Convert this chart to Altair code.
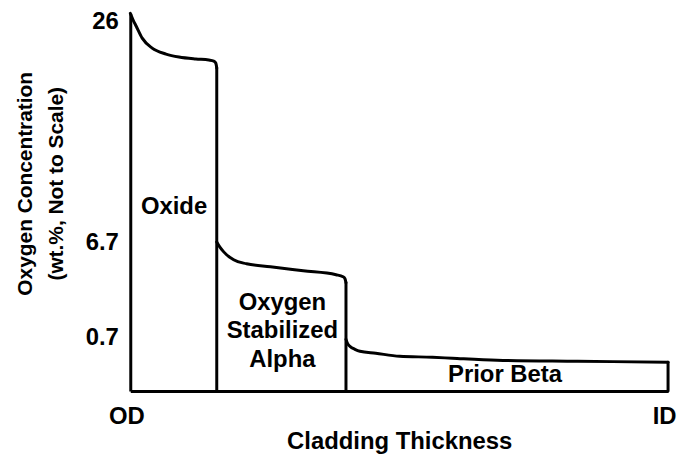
import altair as alt
import pandas as pd

# Curve segments (x: position across cladding, y: concentration, not to scale)
oxide_x = [0, 3, 6, 12, 22, 36, 49, 66, 79, 84, 86, 87]
oxide_y = [380, 373, 367, 355, 345, 339, 336, 334, 333, 332, 330, 325]
alpha_x = [87, 90, 94, 104, 117, 141, 174, 207, 214, 216, 217]
alpha_y = [150, 145, 140, 132, 128, 125, 121, 117, 115, 113, 109]
beta_x = [217, 219, 221, 226, 231, 247, 271, 304, 324, 369, 450, 541]
beta_y = [52, 47, 45, 42, 40, 38, 35, 34, 33, 31, 30, 29]

# Vertical region boundaries
bound_x = [87, 217, 541]
bound_top = [325, 109, 29]

# Axis ticks and labels
x_ticks = [0, 541]
x_labels = ["OD", "ID"]
y_ticks = [372, 149, 54]
y_labels = ["26", "6.7", "0.7"]

# Region annotations
ann_text = ["Oxide", "Oxygen\nStabilized\nAlpha", "Prior Beta"]
ann_x = [44, 153, 377]
ann_y = [185, 89, 16]

FONT = "Liberation Sans"

rows = []
for name, xs, ys in [("oxide", oxide_x, oxide_y), ("alpha", alpha_x, alpha_y), ("beta", beta_x, beta_y)]:
    for i, (xv, yv) in enumerate(zip(xs, ys)):
        rows.append({"seg": name, "i": i, "x": xv, "y": yv})
curve = pd.DataFrame(rows)
bounds = pd.DataFrame({"x": bound_x, "y0": [0] * len(bound_x), "y1": bound_top})
ann = pd.DataFrame({"t": ann_text, "x": ann_x, "y": ann_y})


def label_expr(ticks, labels):
    expr = "''"
    for t, l in zip(ticks, labels):
        expr = f"datum.value == {t} ? '{l}' : ({expr})"
    return expr


xscale = alt.Scale(domain=[0, 541], nice=False, zero=False)
yscale = alt.Scale(domain=[0, 380], nice=False, zero=False)

x_axis = alt.Axis(
    values=x_ticks, labelExpr=label_expr(x_ticks, x_labels), grid=False, ticks=False,
    domainColor="black", domainWidth=3, labelFont=FONT, labelFontSize=24, labelFontWeight="bold",
    labelColor="black", labelPadding=14, labelOffset=-4, title="Cladding Thickness",
    titleFont=FONT, titleFontSize=24, titleFontWeight="bold", titleColor="black",
    titleBaseline="alphabetic", titleY=58, labelFlush=False,
)
y_axis = alt.Axis(
    values=y_ticks, labelExpr=label_expr(y_ticks, y_labels), grid=False, ticks=False,
    domainColor="black", domainWidth=3, labelFont=FONT, labelFontSize=24, labelFontWeight="bold",
    labelColor="black", labelPadding=12, labelFlush=False, labelOverlap=False,
    title=["Oxygen Concentration", "(wt.%, Not to Scale)"],
    titleFont=FONT, titleFontSize=21, titleFontWeight="bold", titleColor="black",
    titleBaseline="alphabetic", titleX=-99, titleY=171, titleAngle=270, titleLineHeight=31,
)

lines = alt.Chart(curve).mark_line(
    color="black", strokeWidth=3, interpolate="monotone", strokeCap="round", strokeJoin="round"
).encode(
    x=alt.X("x:Q", scale=xscale, axis=x_axis),
    y=alt.Y("y:Q", scale=yscale, axis=y_axis),
    detail="seg:N",
    order="i:Q",
)

rules = alt.Chart(bounds).mark_rule(color="black", strokeWidth=3, strokeCap="round").encode(
    x=alt.X("x:Q", scale=xscale),
    y=alt.Y("y0:Q", scale=yscale),
    y2="y1:Q",
)

texts = alt.Chart(ann).mark_text(
    font=FONT, fontSize=24, fontWeight="bold", color="black", lineBreak="\n",
    lineHeight=29, align="center", baseline="middle",
).encode(
    x=alt.X("x:Q", scale=xscale),
    y=alt.Y("y:Q", scale=yscale),
    text="t:N",
)

chart = alt.layer(lines, rules, texts).properties(
    width=541, height=380,
    autosize=alt.AutoSizeParams(type="none"),
    padding={"left": 123, "top": 4, "right": 9, "bottom": 62},
    background="white",
).configure_view(stroke=None)

chart.save("out.html", embed_options={"renderer": "svg", "actions": False})
